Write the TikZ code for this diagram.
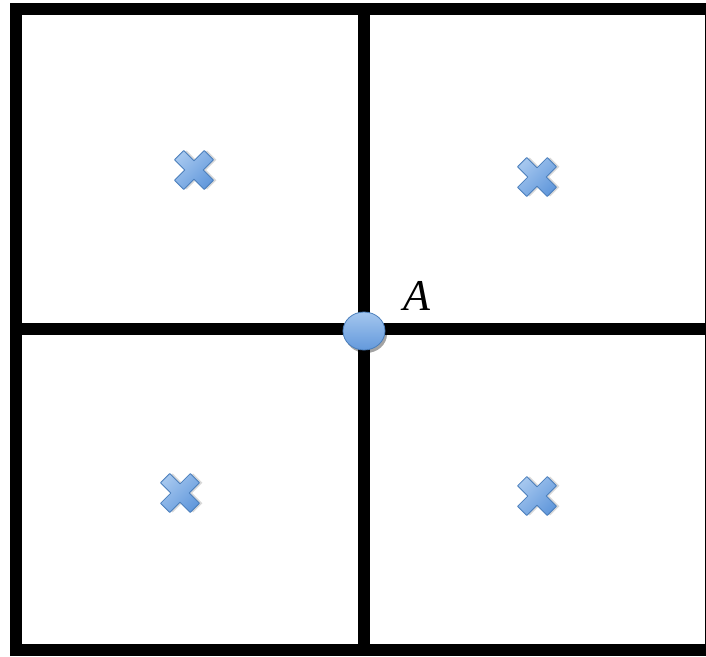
\documentclass[tikz,border=0pt]{standalone}
\usepackage{fontspec}
\newfontfamily\labelfont{Liberation Serif}
\usetikzlibrary{shapes.geometric}
\definecolor{xfillTop}{HTML}{A4C6EE}
\definecolor{xfillBot}{HTML}{6399DC}
\definecolor{xedge}{HTML}{4A7EBB}
\tikzset{
  gridline/.style={line width=12pt, line cap=rect, black},
  xmark/.style={top color=xfillTop, bottom color=xfillBot, draw=xedge, line width=0.8pt, line join=round},
  xshadow/.style={fill=black, opacity=0.15},
  pointA/.style={ellipse, minimum width=42pt, minimum height=38pt, inner sep=0pt,
     top color=xfillTop, bottom color=xfillBot, draw=xedge, line width=0.8pt},
  lbl/.style={font=\labelfont\itshape\fontsize{44}{44}\selectfont, inner sep=0pt}
}
\begin{document}
\begin{tikzpicture}[x=1pt,y=-1pt]
\useasboundingbox (0,0) rectangle (706,656);
\coordinate (tl) at (16,9);
\coordinate (tr) at (711,9);
\coordinate (bl) at (16,650);
\coordinate (br) at (711,650);
\coordinate (tm) at (364,9);
\coordinate (bm) at (364,650);
\coordinate (ml) at (16,329);
\coordinate (mr) at (711,329);
\draw[gridline] (tl) rectangle (br);
\draw[gridline] (tm) -- (bm);
\draw[gridline] (ml) -- (mr);
% cross marks
\foreach \n/\px/\py in {x1/194/170, x2/537/177, x3/180/493, x4/537/496}{
  \coordinate (\n) at (\px,\py);
  \begin{scope}[shift={(\n)}, rotate=45]
    \fill[xshadow, shift={(2,2)}] (-6.5,-21) -- (6.5,-21) -- (6.5,-6.5) -- (21,-6.5) -- (21,6.5) -- (6.5,6.5) -- (6.5,21) -- (-6.5,21) -- (-6.5,6.5) -- (-21,6.5) -- (-21,-6.5) -- (-6.5,-6.5) -- cycle;
    \path[xmark, shading angle=45] (-6.5,-21) -- (6.5,-21) -- (6.5,-6.5) -- (21,-6.5) -- (21,6.5) -- (6.5,6.5) -- (6.5,21) -- (-6.5,21) -- (-6.5,6.5) -- (-21,6.5) -- (-21,-6.5) -- (-6.5,-6.5) -- cycle;
  \end{scope}
}
\node[pointA, fill opacity=0.2, draw=none, fill=black, top color=black, bottom color=black] (Ashadow) at (366,334) {};
\node[pointA] (A) at (364,331) {};
\node[lbl] (Alabel) at (417,296) {A};
\end{tikzpicture}
\end{document}
